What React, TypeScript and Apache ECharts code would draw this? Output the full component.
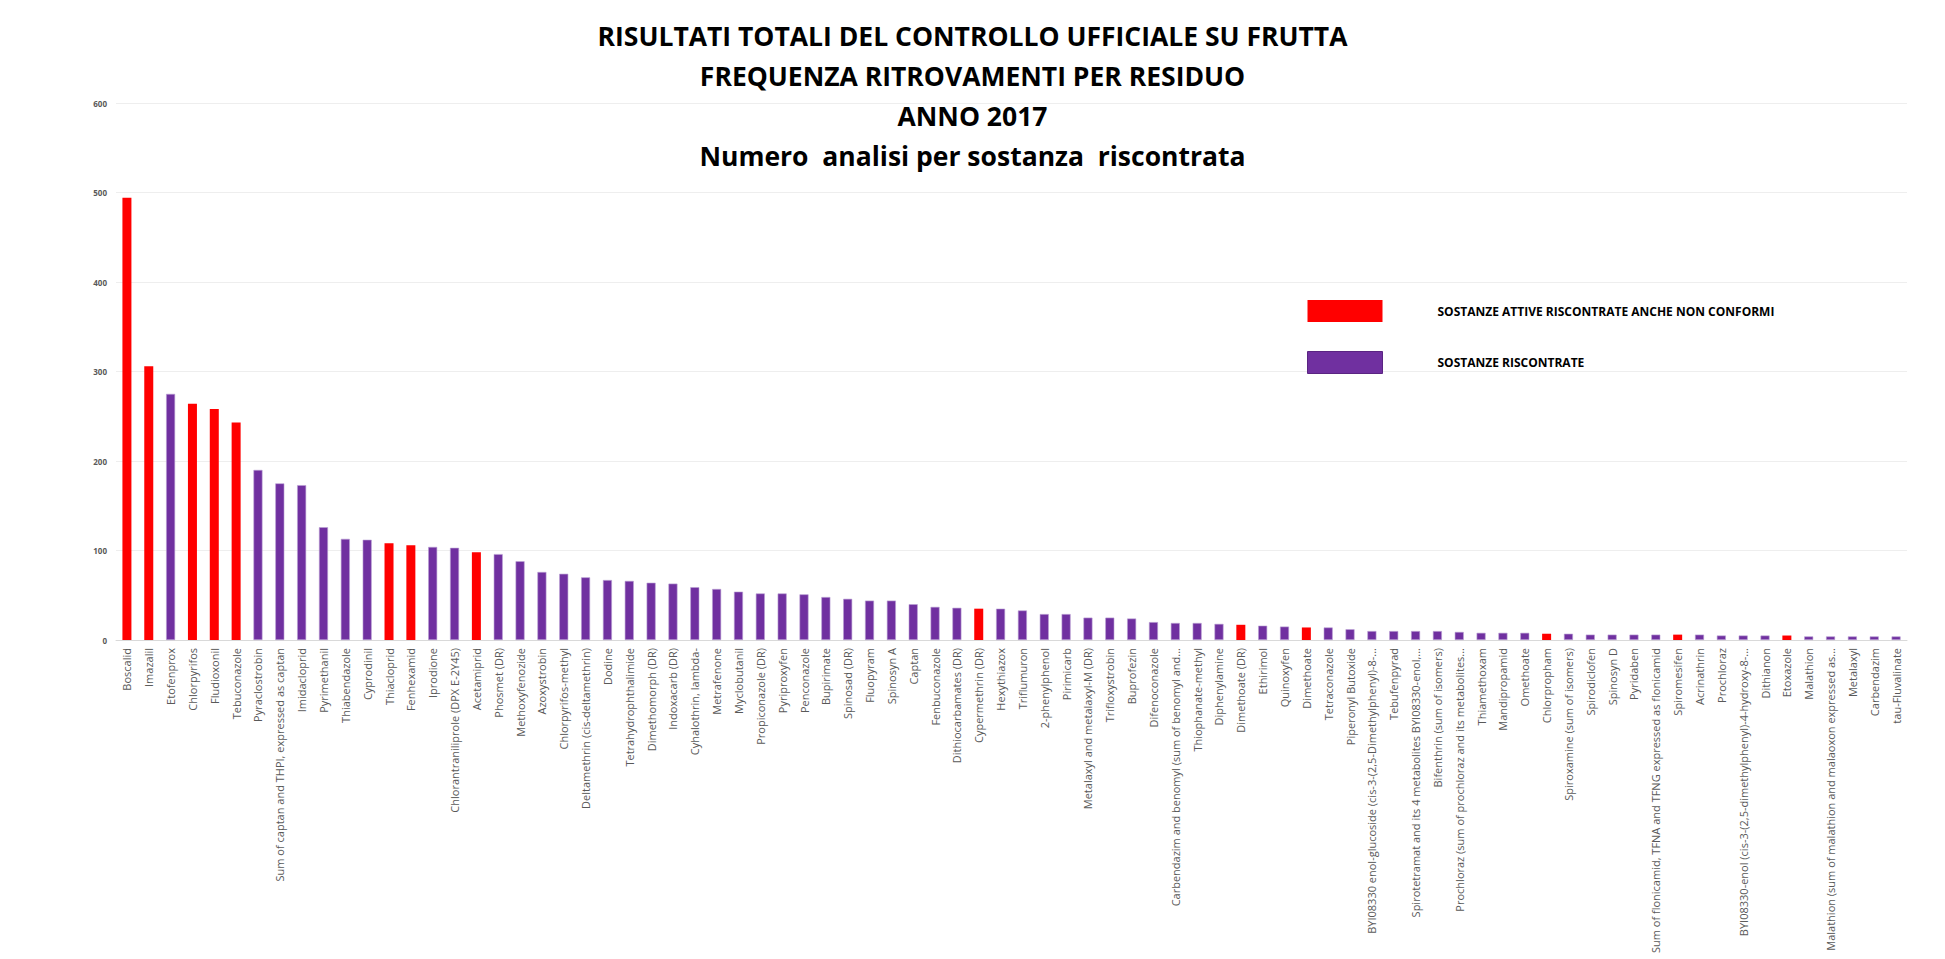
import React, { useEffect, useRef } from "react";
import * as echarts from "echarts";

const titleLines = [
  "RISULTATI TOTALI DEL CONTROLLO UFFICIALE SU FRUTTA",
  "FREQUENZA RITROVAMENTI PER RESIDUO",
  "ANNO 2017",
  "Numero  analisi per sostanza  riscontrata",
];

const legendRed = "SOSTANZE ATTIVE RISCONTRATE ANCHE NON CONFORMI";
const legendPurple = "SOSTANZE RISCONTRATE";

const categories = [
  "Boscalid", "Imazalil", "Etofenprox", "Chlorpyrifos", "Fludioxonil", "Tebuconazole",
  "Pyraclostrobin", "Sum of captan and THPI, expressed as captan", "Imidacloprid", "Pyrimethanil",
  "Thiabendazole", "Cyprodinil", "Thiacloprid", "Fenhexamid", "Iprodione",
  "Chlorantraniliprole (DPX E-2Y45)", "Acetamiprid", "Phosmet (DR)", "Methoxyfenozide", "Azoxystrobin",
  "Chlorpyrifos-methyl", "Deltamethrin (cis-deltamethrin)", "Dodine", "Tetrahydrophthalimide",
  "Dimethomorph (DR)", "Indoxacarb (DR)", "Cyhalothrin, lambda-", "Metrafenone", "Myclobutanil",
  "Propiconazole (DR)", "Pyriproxyfen", "Penconazole", "Bupirimate", "Spinosad (DR)", "Fluopyram",
  "Spinosyn A", "Captan", "Fenbuconazole", "Dithiocarbamates (DR)", "Cypermethrin (DR)", "Hexythiazox",
  "Triflumuron", "2-phenylphenol", "Pirimicarb", "Metalaxyl and metalaxyl-M (DR)", "Trifloxystrobin",
  "Buprofezin", "Difenoconazole", "Carbendazim and benomyl (sum of benomyl and...",
  "Thiophanate-methyl", "Diphenylamine", "Dimethoate (DR)", "Ethirimol", "Quinoxyfen", "Dimethoate",
  "Tetraconazole", "Piperonyl Butoxide", "BYI08330 enol-glucoside (cis-3-(2,5-Dimethylphenyl)-8-...",
  "Tebufenpyrad", "Spirotetramat and its 4 metabolites BYI08330-enol,...", "Bifenthrin (sum of isomers)",
  "Prochloraz (sum of prochloraz and its metabolites...", "Thiamethoxam", "Mandipropamid", "Omethoate",
  "Chlorpropham", "Spiroxamine (sum of isomers)", "Spirodiclofen", "Spinosyn D", "Pyridaben",
  "Sum of flonicamid, TFNA and TFNG expressed as flonicamid", "Spiromesifen", "Acrinathrin",
  "Prochloraz", "BYI08330-enol (cis-3-(2,5-dimethylphenyl)-4-hydroxy-8-...", "Dithianon", "Etoxazole",
  "Malathion", "Malathion (sum of malathion and malaoxon expressed as...", "Metalaxyl", "Carbendazim",
  "tau-Fluvalinate",
];

const values = [
  494, 306, 275, 264, 258, 243,
  190, 175, 173, 126,
  113, 112, 108, 106, 104,
  103, 98, 96, 88, 76,
  74, 70, 67, 66,
  64, 63, 59, 57, 54,
  52, 52, 51, 48, 46, 44,
  44, 40, 37, 36, 35, 35,
  33, 29, 29, 25, 25,
  24, 20, 19,
  19, 18, 17, 16, 15, 14,
  14, 12, 10,
  10, 10, 10,
  9, 8, 8, 8,
  7, 7, 6, 6, 6,
  6, 6, 6,
  5, 5, 5, 5,
  4, 4, 4, 4,
  4,
];

// 1 = non conforme (red), 0 = riscontrata (purple)
const nonConforming = [
  1, 1, 0, 1, 1, 1,
  0, 0, 0, 0,
  0, 0, 1, 1, 0,
  0, 1, 0, 0, 0,
  0, 0, 0, 0,
  0, 0, 0, 0, 0,
  0, 0, 0, 0, 0, 0,
  0, 0, 0, 0, 1, 0,
  0, 0, 0, 0, 0,
  0, 0, 0,
  0, 0, 1, 0, 0, 1,
  0, 0, 0,
  0, 0, 0,
  0, 0, 0, 0,
  1, 0, 0, 0, 0,
  0, 1, 0,
  0, 0, 0, 1,
  0, 0, 0, 0,
  0,
];

const RED = "#FF0000";
const PURPLE = "#7030A0";
const FONT = "'Open Sans', sans-serif";

export default function App() {
  const ref = useRef<HTMLDivElement>(null);
  useEffect(() => {
    const chart = echarts.init(ref.current!, null, { renderer: "svg" });
    chart.setOption({
      animation: false,
      backgroundColor: "#ffffff",
      title: {
        text: titleLines.join("\n"),
        left: "center",
        top: 11,
        textStyle: {
          fontFamily: FONT,
          fontSize: 26.5,
          fontWeight: "bold",
          color: "#000000",
          lineHeight: 40,
        },
      },
      legend: {
        orient: "vertical",
        left: 1307,
        top: 300,
        padding: 0,
        itemWidth: 75,
        itemHeight: 22,
        itemGap: 29,
        icon: "rect",
        data: [
          { name: legendRed, itemStyle: { color: RED, borderWidth: 0 } },
          { name: legendPurple, itemStyle: { color: PURPLE, borderColor: "#5a2482", borderWidth: 1 } },
        ],
        textStyle: {
          fontFamily: FONT,
          fontSize: 12,
          fontWeight: "bold",
          color: "#000000",
          padding: [0, 0, 0, 50],
        },
      },
      grid: {
        left: 116,
        right: 38,
        top: 103,
        bottom: 319,
        containLabel: false,
        outerBoundsMode: "none",
      },
      xAxis: {
        type: "category",
        data: categories,
        axisTick: { show: false },
        axisLine: { lineStyle: { color: "#d9d9d9", width: 1 } },
        axisLabel: {
          interval: 0,
          rotate: 90,
          fontFamily: FONT,
          fontSize: 11,
          color: "#595959",
          margin: 8,
        },
      },
      yAxis: {
        type: "value",
        min: 0,
        max: 600,
        interval: 100,
        axisLine: { show: false },
        axisTick: { show: false },
        splitLine: { lineStyle: { color: "#eeeeee", width: 1 } },
        axisLabel: {
          fontFamily: FONT,
          fontSize: 8,
          fontWeight: "bold",
          color: "#595959",
          margin: 9,
        },
      },
      series: [
        {
          name: legendRed,
          type: "bar",
          barWidth: 9,
          barGap: "-100%",
          itemStyle: { color: RED },
          data: values.map((v, i) => (nonConforming[i] ? v : "-")),
        },
        {
          name: legendPurple,
          type: "bar",
          barWidth: 9,
          barGap: "-100%",
          itemStyle: { color: PURPLE, borderColor: "#b9a0d3", borderWidth: 0.6 },
          data: values.map((v, i) => (nonConforming[i] ? "-" : v)),
        },
      ],
    });
    return () => chart.dispose();
  }, []);
  return (
    <div
      ref={ref}
      style={{ position: "fixed", left: 0, top: 0, width: 1945, height: 959 }}
    />
  );
}
